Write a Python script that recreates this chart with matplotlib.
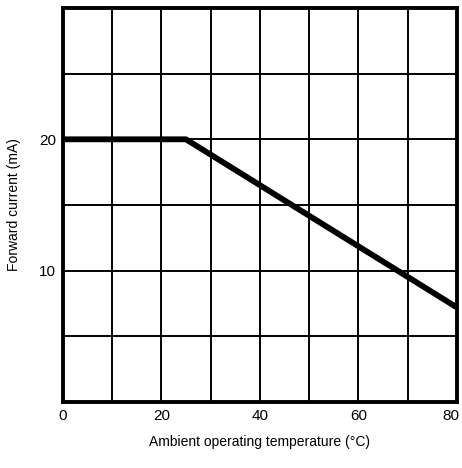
import matplotlib
matplotlib.use("Agg")
import matplotlib.pyplot as plt
import matplotlib.transforms as mtransforms

# derating curve: forward current vs ambient temperature
temp = [0, 25, 80]
current = [20, 20, 7.2]

xticks = [0, 20, 40, 60, 80]
yticks = [10, 20]

plt.rcParams["font.family"] = ["Liberation Sans", "DejaVu Sans"]

fig = plt.figure(figsize=(4.62, 4.68), dpi=100)
ax = fig.add_axes([0.136, 0.141, 0.853, 0.842])

ax.plot(temp, current, color="black", linewidth=4.2, solid_capstyle="butt", zorder=3)

ax.set_xlim(0, 80)
ax.set_ylim(0, 30)
ax.set_xticks(range(0, 81, 10), minor=True)
ax.set_yticks(range(0, 31, 5), minor=True)
ax.set_xticks(xticks)
ax.set_yticks(yticks)
ax.set_xticklabels([str(v) for v in xticks], fontsize=11)
ax.set_yticklabels([str(v) for v in yticks], fontsize=11)
ax.tick_params(which="both", length=0, pad=5)
ax.grid(True, which="both", color="black", linewidth=1.4)

# last x label sits a little left so it stays inside the figure
last = ax.get_xticklabels()[-1]
last.set_transform(last.get_transform() +
                   mtransforms.ScaledTranslation(-6 / 100, 0, fig.dpi_scale_trans))

for s in ax.spines.values():
    s.set_linewidth(2.8)
    s.set_color("black")

ax.set_xlabel("Ambient operating temperature (°C)", fontsize=10, labelpad=9)
ax.set_ylabel("Forward current (mA)", fontsize=10, labelpad=13)

fig.savefig("out.png", dpi=100)
